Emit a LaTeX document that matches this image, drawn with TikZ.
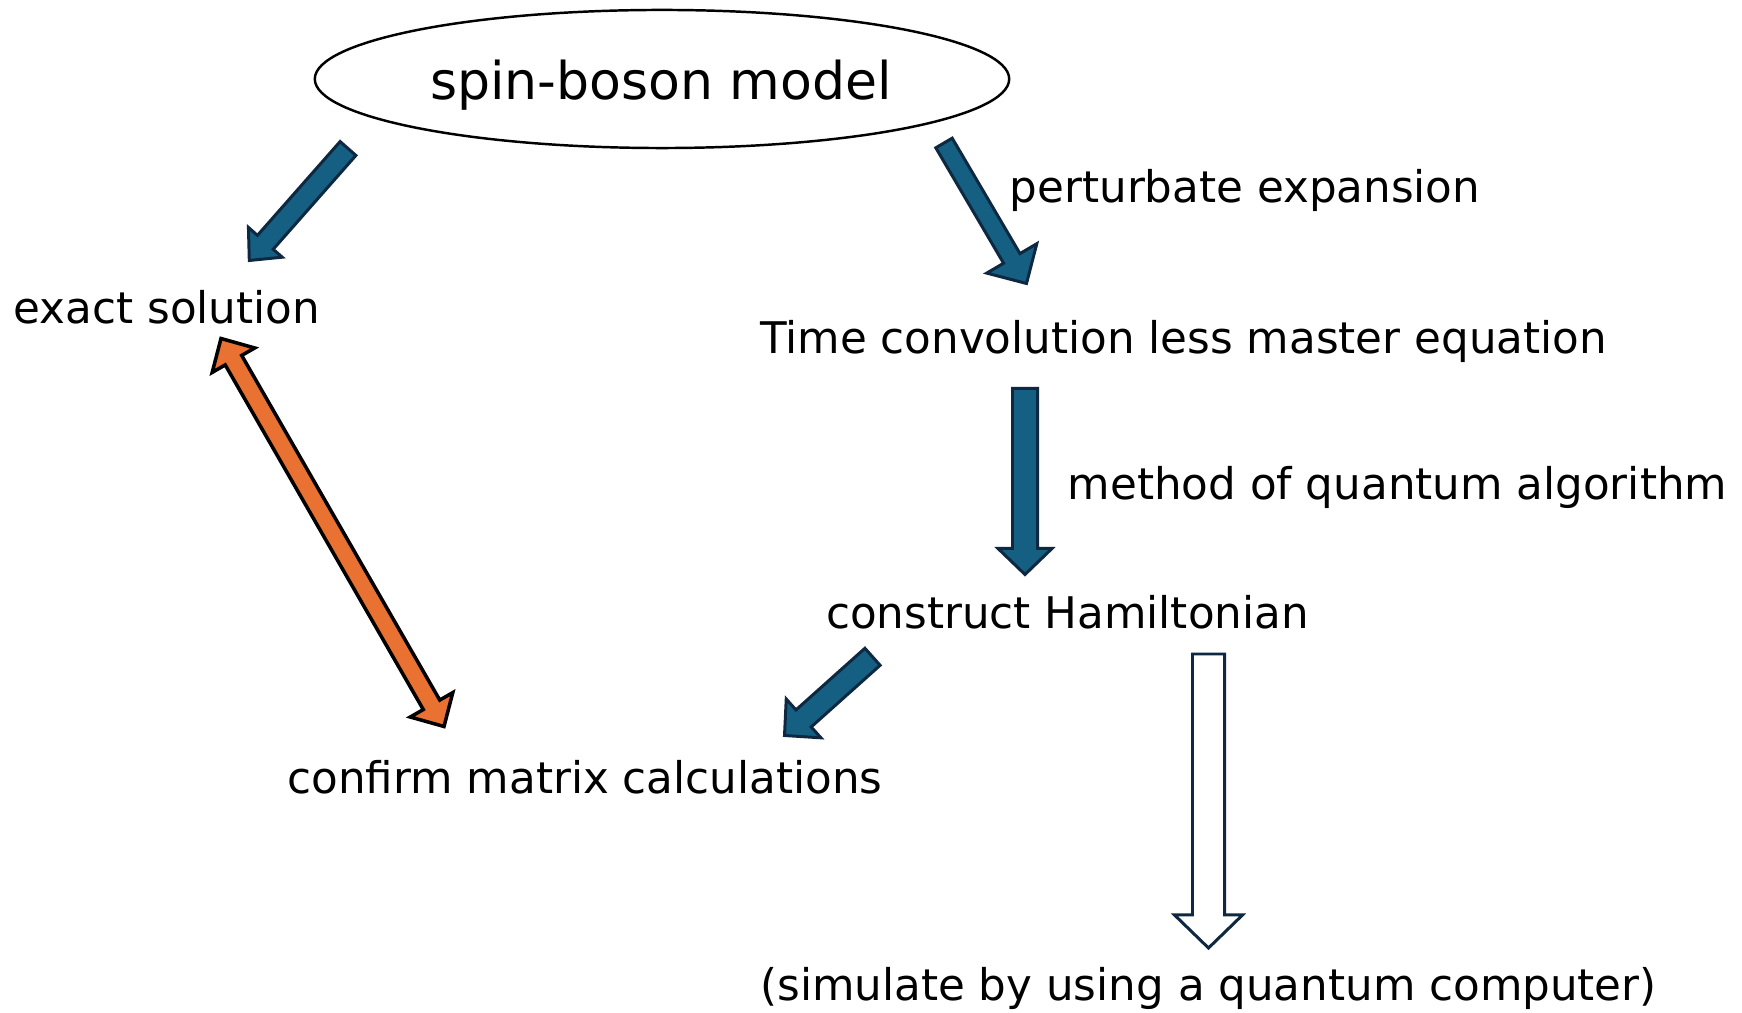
\documentclass[tikz,border=0pt]{standalone}
\usepackage{fontspec}
\setmainfont{DejaVu Sans}
\usetikzlibrary{calc,shapes.geometric}
\definecolor{accblue}{HTML}{156082}
\definecolor{darknavy}{HTML}{0E2841}
\definecolor{accorange}{HTML}{E97132}
% #1 style, #2 from, #3 to, #4 shaft half width, #5 head half width, #6 head length (all px)
\newcommand\blockarrow[6]{%
 \draw[#1] let \p1=(#2), \p2=(#3),
  \n1={atan2(\y2-\y1,\x2-\x1)}, \n2={\n1+90}, \n3={\n1-90},
  \n4={veclen(\x2-\x1,\y2-\y1)-#6*0.28453pt},
  \n5={#4*0.28453pt}, \n6={#5*0.28453pt} in
  ($(\p1)+(\n2:\n5)$) -- ($(\p1)+(\n1:\n4)+(\n2:\n5)$) -- ($(\p1)+(\n1:\n4)+(\n2:\n6)$) -- (\p2)
  -- ($(\p1)+(\n1:\n4)+(\n3:\n6)$) -- ($(\p1)+(\n1:\n4)+(\n3:\n5)$) -- ($(\p1)+(\n3:\n5)$) -- cycle;}
\newcommand\dblockarrow[6]{%
 \draw[#1] let \p1=(#2), \p2=(#3),
  \n1={atan2(\y2-\y1,\x2-\x1)}, \n2={\n1+90}, \n3={\n1-90},
  \n4={veclen(\x2-\x1,\y2-\y1)-#6*0.28453pt}, \n7={#6*0.28453pt},
  \n5={#4*0.28453pt}, \n6={#5*0.28453pt} in
  (\p1) -- ($(\p1)+(\n1:\n7)+(\n3:\n6)$) -- ($(\p1)+(\n1:\n7)+(\n3:\n5)$)
  -- ($(\p1)+(\n1:\n4)+(\n3:\n5)$) -- ($(\p1)+(\n1:\n4)+(\n3:\n6)$) -- (\p2)
  -- ($(\p1)+(\n1:\n4)+(\n2:\n6)$) -- ($(\p1)+(\n1:\n4)+(\n2:\n5)$)
  -- ($(\p1)+(\n1:\n7)+(\n2:\n5)$) -- ($(\p1)+(\n1:\n7)+(\n2:\n6)$) -- cycle;}
\begin{document}
\begin{tikzpicture}[x=0.01cm,y=-0.01cm,
  txt/.style={inner sep=0pt,anchor=base,font=\fontsize{12.4}{15}\selectfont},
  bluearrow/.style={fill=accblue,draw=darknavy,line width=0.85pt,line join=miter},
  whitearrow/.style={fill=white,draw=darknavy,line width=0.85pt,line join=miter},
  orangearrow/.style={fill=accorange,draw=black,line width=1pt,line join=miter}]
\useasboundingbox (0,0) rectangle (1742,1013);
\fill[white] (0,0) rectangle (1742,1013);
% nodes
\node[ellipse,draw=black,line width=0.7pt,minimum width=6.94cm,minimum height=1.38cm,inner sep=0pt] (spin) at (662,79) {};
\node[inner sep=0pt,anchor=base,font=\fontsize{14.8}{17}\selectfont] (spinlabel) at (661,100) {spin-boson model};
\node[txt] (exact) at (167,324) {exact solution};
\node[txt] (pert) at (1245,203) {perturbate expansion};
\node[txt] (tcl) at (1183.5,353.5) {Time convolution less master equation};
\node[txt] (meth) at (1397.5,500) {method of quantum algorithm};
\node[txt] (ham) at (1067.5,629) {construct Hamiltonian};
\node[txt] (conf) at (585,794) {confirm matrix calculations};
\node[txt] (sim) at (1208.5,1001) {(simulate by using a quantum computer)};
% arrow end points
\coordinate (aS) at (348,148.5);
\coordinate (aE) at (249.3,260.5);
\coordinate (bS) at (944,143);
\coordinate (bE) at (1026.5,283.5);
\coordinate (cS) at (1025,388.5);
\coordinate (cE) at (1025,574.5);
\coordinate (dS) at (221,338.5);
\coordinate (dE) at (444,726.5);
\coordinate (eS) at (872.5,656.8);
\coordinate (eE) at (784.5,735.5);
\coordinate (fS) at (1208.5,654);
\coordinate (fE) at (1208.5,948);
% arrows
\blockarrow{bluearrow}{aS}{aE}{10.5}{22.5}{24}
\blockarrow{bluearrow}{bS}{bE}{9.5}{29}{29}
\blockarrow{bluearrow}{cS}{cE}{12.5}{27}{26}
\dblockarrow{orangearrow}{dS}{dE}{9.5}{24.5}{25}
\blockarrow{bluearrow}{eS}{eE}{11.4}{26}{25.5}
\blockarrow{whitearrow}{fS}{fE}{16}{34}{33}
\end{tikzpicture}
\end{document}
